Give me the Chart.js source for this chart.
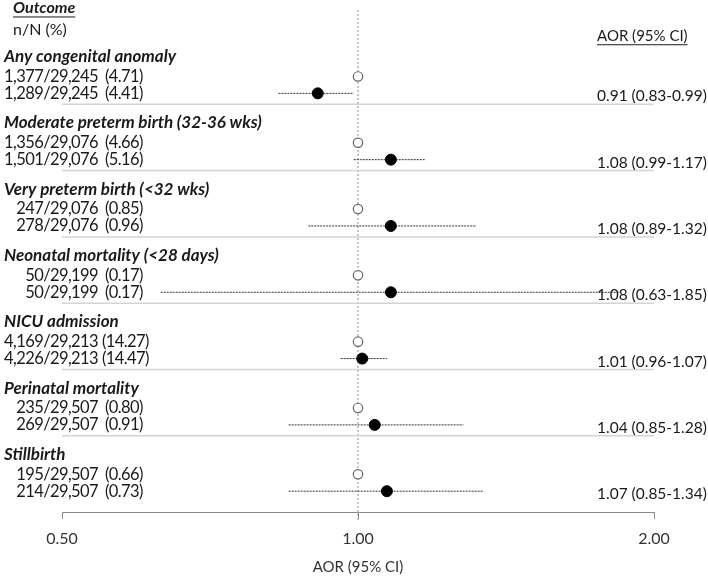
<!DOCTYPE html>
<html>
<head>
<meta charset="utf-8">
<script src="https://cdn.jsdelivr.net/npm/chart.js@4"></script>
<style>
  html, body { margin: 0; padding: 0; background: #fff; }
</style>
</head>
<body>
<canvas id="forest" width="708" height="577"></canvas>
<script>
// Forest plot data
const outcomes = [
  "Any congenital anomaly",
  "Moderate preterm birth (32-36 wks)",
  "Very preterm birth (<32 wks)",
  "Neonatal mortality (<28 days)",
  "NICU admission",
  "Perinatal mortality",
  "Stillbirth"
];
const refCounts = ["1,377/29,245", "1,356/29,076", "247/29,076", "50/29,199", "4,169/29,213", "235/29,507", "195/29,507"];
const refPct = ["4.71", "4.66", "0.85", "0.17", "14.27", "0.80", "0.66"];
const expCounts = ["1,289/29,245", "1,501/29,076", "278/29,076", "50/29,199", "4,226/29,213", "269/29,507", "214/29,507"];
const expPct = ["4.41", "5.16", "0.96", "0.17", "14.47", "0.91", "0.73"];
const aor = [0.91, 1.08, 1.08, 1.08, 1.01, 1.04, 1.07];
const ciLow = [0.83, 0.99, 0.89, 0.63, 0.96, 0.85, 0.85];
const ciHigh = [0.99, 1.17, 1.32, 1.85, 1.07, 1.28, 1.34];
const xTicks = [0.5, 1, 2];

// row offsets inside one outcome block (block = 1 y unit)
const ROW_REF = 0.30, ROW_EXP = 0.555, SEP = 0.72;
const Y_MIN = -0.853, Y_MAX = 6.881;

const FONT = "Lato, 'Open Sans', sans-serif";
const TXT = "#1a1a1a";

const datasets = [];
datasets.push({
  label: "AOR",
  data: aor.map((v, i) => ({ x: v, y: i + ROW_EXP })),
  pointRadius: 5.5,
  pointBackgroundColor: "#000",
  pointBorderColor: "#000",
  showLine: false
});
datasets.push({
  label: "Reference",
  data: aor.map((v, i) => ({ x: 1, y: i + ROW_REF })),
  pointRadius: 4.7,
  pointBackgroundColor: "#fff",
  pointBorderColor: "#666",
  pointBorderWidth: 1.2,
  showLine: false
});
ciLow.forEach((lo, i) => {
  datasets.push({
    data: [{ x: lo, y: i + ROW_EXP }, { x: ciHigh[i], y: i + ROW_EXP }],
    showLine: true,
    borderColor: "#333",
    borderWidth: 1,
    borderDash: [2, 1],
    pointRadius: 0,
    clip: false
  });
});
outcomes.slice(0, -1).forEach((o, i) => {
  datasets.push({
    data: [{ x: 0.5, y: i + SEP }, { x: 2, y: i + SEP }],
    showLine: true,
    borderColor: "#d4d4d4",
    borderWidth: 1.5,
    pointRadius: 0
  });
});
datasets.push({
  data: [{ x: 1, y: Y_MIN + 0.15 }, { x: 1, y: Y_MAX + 0.12 }],
  showLine: true,
  borderColor: "#888",
  borderWidth: 1,
  borderDash: [2, 2],
  pointRadius: 0,
  clip: false
});

function underline(ctx, x, y, w) {
  ctx.save();
  ctx.strokeStyle = TXT;
  ctx.lineWidth = 1;
  ctx.beginPath();
  ctx.moveTo(x, y);
  ctx.lineTo(x + w, y);
  ctx.stroke();
  ctx.restore();
}

const textPlugin = {
  id: "forestText",
  afterDatasetsDraw(chart) {
    const ctx = chart.ctx;
    const y = chart.scales.y;
    ctx.save();
    ctx.fillStyle = TXT;
    ctx.textBaseline = "middle";

    // headers
    ctx.textAlign = "left";
    ctx.font = "italic bold 16px " + FONT;
    ctx.fillText("Outcome", 13, y.getPixelForValue(-0.733));
    underline(ctx, 13, y.getPixelForValue(-0.733) + 9, ctx.measureText("Outcome").width);
    ctx.font = "16px " + FONT;
    ctx.fillText("n/N (%)", 13, y.getPixelForValue(-0.404));
    ctx.font = "15px " + FONT;
    ctx.fillText("AOR (95% CI)", 597, y.getPixelForValue(-0.314));
    underline(ctx, 597, y.getPixelForValue(-0.314) + 9, ctx.measureText("AOR (95% CI)").width);

    outcomes.forEach((o, i) => {
      ctx.textAlign = "left";
      ctx.letterSpacing = "0px";
      ctx.font = "italic bold 17px " + FONT;
      ctx.fillText(o, 4, y.getPixelForValue(i));

      ctx.font = "16.5px " + FONT;
      ctx.letterSpacing = "-0.6px";
      ctx.textAlign = "right";
      ctx.fillText(refCounts[i], 98, y.getPixelForValue(i + ROW_REF));
      ctx.fillText(expCounts[i], 98, y.getPixelForValue(i + ROW_EXP));
      ctx.textAlign = "left";
      const px = refPct[i].length > 4 ? 102 : 105;
      ctx.fillText("(" + refPct[i] + ")", px, y.getPixelForValue(i + ROW_REF));
      ctx.fillText("(" + expPct[i] + ")", px, y.getPixelForValue(i + ROW_EXP));

      ctx.letterSpacing = "0px";
      ctx.font = "15.5px " + FONT;
      const lbl = aor[i].toFixed(2) + " (" + ciLow[i].toFixed(2) + "-" + ciHigh[i].toFixed(2) + ")";
      ctx.fillText(lbl, 597, y.getPixelForValue(i + ROW_EXP) + 3);
    });
    ctx.restore();
  }
};

new Chart(document.getElementById("forest").getContext("2d"), {
  type: "scatter",
  data: { datasets: datasets },
  plugins: [textPlugin],
  options: {
    responsive: false,
    animation: false,
    devicePixelRatio: 1,
    layout: { autoPadding: false, padding: { left: 62, right: 54, top: 0, bottom: 0 } },
    plugins: { legend: { display: false }, tooltip: { enabled: false } },
    scales: {
      x: {
        type: "logarithmic",
        min: 0.5,
        max: 2,
        afterBuildTicks: (scale) => { scale.ticks = xTicks.map(v => ({ value: v })); },
        ticks: {
          color: "#333",
          font: { family: FONT, size: 16 },
          padding: 10,
          maxRotation: 0,
          callback: (v) => Number(v).toFixed(2)
        },
        grid: { drawOnChartArea: false, tickLength: 6, tickColor: "#888", color: "#888" },
        border: { color: "#888", width: 1 },
        title: {
          display: true,
          text: "AOR (95% CI)",
          color: "#333",
          font: { family: FONT, size: 15 },
          padding: { top: 0, bottom: 1 }
        }
      },
      y: {
        type: "linear",
        reverse: true,
        min: Y_MIN,
        max: Y_MAX,
        display: false
      }
    }
  }
});
</script>
</body>
</html>
